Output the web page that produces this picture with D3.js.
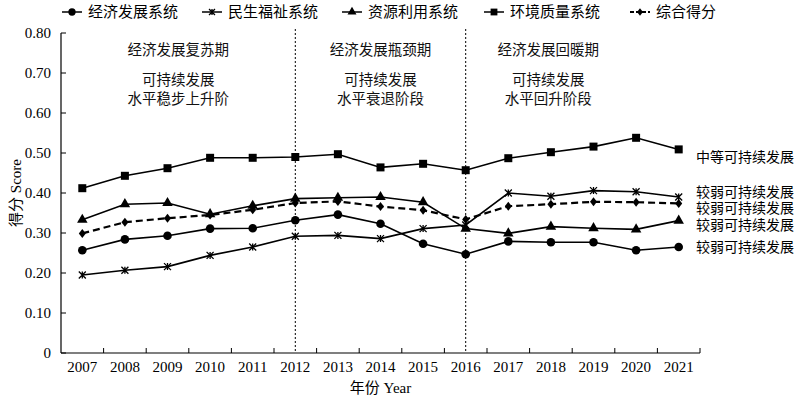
<!DOCTYPE html>
<html>
<head>
<meta charset="utf-8">
<script src="https://cdn.jsdelivr.net/npm/d3@7"></script>
<style>
  body { margin: 0; background: #fff; }
  svg { display: block; }
  .cn { font-family: "Noto Sans CJK SC", sans-serif; }
  .num { font-family: "Liberation Serif", "Times New Roman", serif; }
</style>
</head>
<body>
<div id="chart"></div>
<script>
var years = ['2007','2008','2009','2010','2011','2012','2013','2014','2015','2016','2017','2018','2019','2020','2021']
var econ = [0.257,0.284,0.293,0.311,0.312,0.332,0.346,0.323,0.273,0.247,0.279,0.277,0.277,0.257,0.265]
var livelihood = [0.195,0.207,0.216,0.244,0.265,0.292,0.294,0.286,0.311,0.320,0.400,0.392,0.406,0.403,0.390]
var resource = [0.333,0.372,0.375,0.347,0.368,0.386,0.388,0.390,0.377,0.311,0.299,0.316,0.312,0.309,0.331]
var environ = [0.412,0.443,0.462,0.488,0.488,0.490,0.497,0.464,0.473,0.457,0.487,0.502,0.516,0.538,0.509]
var overall = [0.299,0.327,0.337,0.345,0.358,0.375,0.379,0.366,0.357,0.334,0.367,0.372,0.378,0.377,0.374]
var seriesNames = ['经济发展系统','民生福祉系统','资源利用系统','环境质量系统','综合得分']
var yTicks = [0,0.1,0.2,0.3,0.4,0.5,0.6,0.7,0.8]
var periods = [
	{from:'2007', to:'2012', lines:['经济发展复苏期','可持续发展','水平稳步上升阶']},
	{from:'2012', to:'2016', lines:['经济发展瓶颈期','可持续发展','水平衰退阶段']},
	{from:'2016', to:'2021', lines:['经济发展回暖期','可持续发展','水平回升阶段']}
]
var dividers = ['2012','2016']
var endLabels = [
	{v:0.490, text:'中等可持续发展'},
	{v:0.403, text:'较弱可持续发展'},
	{v:0.363, text:'较弱可持续发展'},
	{v:0.320, text:'较弱可持续发展'},
	{v:0.265, text:'较弱可持续发展'}
]

var W = 800, H = 397
var m = {left:61, right:100, top:33, bottom:44}
var svg = d3.select('#chart').append('svg').attr('width',W).attr('height',H)

var x = d3.scaleBand().domain(years).range([m.left, W-m.right])
var y = d3.scaleLinear().domain([0,0.8]).range([H-m.bottom, m.top])
var cx = d => x(d) + x.bandwidth()/2

// axes
var gx = svg.append('g').attr('transform','translate(0,'+(H-m.bottom)+')')
gx.append('line').attr('x1',m.left).attr('x2',W-m.right).attr('stroke','#000').attr('stroke-width',1.2)
var bounds = years.map(d=>x(d)).concat([W-m.right]).slice(1)
gx.selectAll('line.tk').data(bounds).enter().append('line').attr('class','tk')
	.attr('x1',d=>d).attr('x2',d=>d).attr('y1',0).attr('y2',-5).attr('stroke','#000')
gx.selectAll('text').data(years).enter().append('text').attr('class','num')
	.attr('x',d=>cx(d)).attr('y',19).attr('text-anchor','middle')
	.style('font-size','15px').text(d=>d)

var gy = svg.append('g').attr('transform','translate('+m.left+',0)')
gy.append('line').attr('y1',m.top).attr('y2',H-m.bottom).attr('stroke','#000').attr('stroke-width',1.2)
gy.selectAll('line.tk').data(yTicks).enter().append('line').attr('class','tk')
	.attr('x1',0).attr('x2',5).attr('y1',d=>y(d)).attr('y2',d=>y(d)).attr('stroke','#000')
gy.selectAll('text').data(yTicks).enter().append('text').attr('class','num')
	.attr('x',-10).attr('y',d=>y(d)+5).attr('text-anchor','end')
	.style('font-size','15px').text(d=>d===0?'0':d.toFixed(2))

svg.append('text').attr('transform','translate(21,'+((m.top+H-m.bottom)/2)+') rotate(-90)')
	.attr('text-anchor','middle').style('font-size','15px')
	.html('<tspan class="cn">得分</tspan><tspan class="num"> Score</tspan>')
svg.append('text').attr('x',(m.left+W-m.right)/2).attr('y',H-4)
	.attr('text-anchor','middle').style('font-size','15px')
	.html('<tspan class="cn">年份</tspan><tspan class="num"> Year</tspan>')

// dividers
svg.selectAll('line.div').data(dividers).enter().append('line').attr('class','div')
	.attr('x1',d=>cx(d)).attr('x2',d=>cx(d)).attr('y1',m.top-4).attr('y2',H-m.bottom)
	.attr('stroke','#000').attr('stroke-width',1).attr('stroke-dasharray','2,2')

// period annotations
periods.forEach(function(p){
	var px = (cx(p.from)+cx(p.to))/2
	if(p.from==='2007') px = (m.left+cx(p.to))/2
	if(p.to==='2021') px = (cx(p.from)+cx(p.to))/2 - 24
	var t = svg.append('text').attr('class','cn').attr('text-anchor','middle')
		.style('font-size','14.5px').attr('fill','#111')
	t.append('tspan').attr('x',px).attr('y',55).text(p.lines[0])
	t.append('tspan').attr('x',px).attr('y',85).text(p.lines[1])
	t.append('tspan').attr('x',px).attr('y',104).text(p.lines[2])
})

// series
var data = [econ, livelihood, resource, environ, overall]
var symbols = ['circle','star','triangle','square','diamond']
var line = d3.line().x((d,i)=>cx(years[i])).y(d=>y(d))

function marker(g, type, px, py, s){
	s = s || 1
	if(type==='circle') g.append('circle').attr('cx',px).attr('cy',py).attr('r',4.3*s)
	else if(type==='square') g.append('rect').attr('x',px-4*s).attr('y',py-4*s).attr('width',8*s).attr('height',8*s)
	else if(type==='triangle') g.append('path').attr('d',d3.symbol(d3.symbolTriangle, 48*s*s)()).attr('transform','translate('+px+','+py+')')
	else if(type==='diamond') g.append('path').attr('d','M0,-4.5L3.5,0L0,4.5L-3.5,0Z').attr('transform','translate('+px+','+py+') scale('+s+')')
	else if(type==='star') {
		var r = 3.5*s
		g.append('path').attr('d','M'+(-r)+','+(-r)+'L'+r+','+r+'M'+(-r)+','+r+'L'+r+','+(-r)+'M0,'+(-r)+'L0,'+r)
			.attr('transform','translate('+px+','+py+')').attr('stroke','#000').attr('stroke-width',1.3).attr('fill','none')
	}
}

data.forEach(function(vals, k){
	svg.append('path').datum(vals).attr('d',line).attr('fill','none')
		.attr('stroke','#000').attr('stroke-width',k===4?2.2:1.6)
		.attr('stroke-dasharray',k===4?'7,4':null)
	var g = svg.append('g').attr('fill','#000')
	vals.forEach((v,i)=>marker(g, symbols[k], cx(years[i]), y(v)))
})

// end labels
svg.selectAll('text.end').data(endLabels).enter().append('text').attr('class','cn end')
	.attr('x',696).attr('y',d=>y(d.v)+5).style('font-size','14px').text(d=>d.text)

// legend
var legX = [62, 202, 342, 484, 630]
var lg = svg.append('g')
seriesNames.forEach(function(n,k){
	var lx = legX[k], ly = 12
	lg.append('line').attr('x1',lx).attr('x2',lx+20).attr('y1',ly).attr('y2',ly)
		.attr('stroke','#000').attr('stroke-width',k===4?2:1.5).attr('stroke-dasharray',k===4?'4,2':null)
	marker(lg.append('g').attr('fill','#000'), symbols[k], lx+10, ly, 0.85)
	lg.append('text').attr('class','cn').attr('x',lx+26).attr('y',ly+5).style('font-size','15px').text(n)
})
</script>
</body>
</html>
